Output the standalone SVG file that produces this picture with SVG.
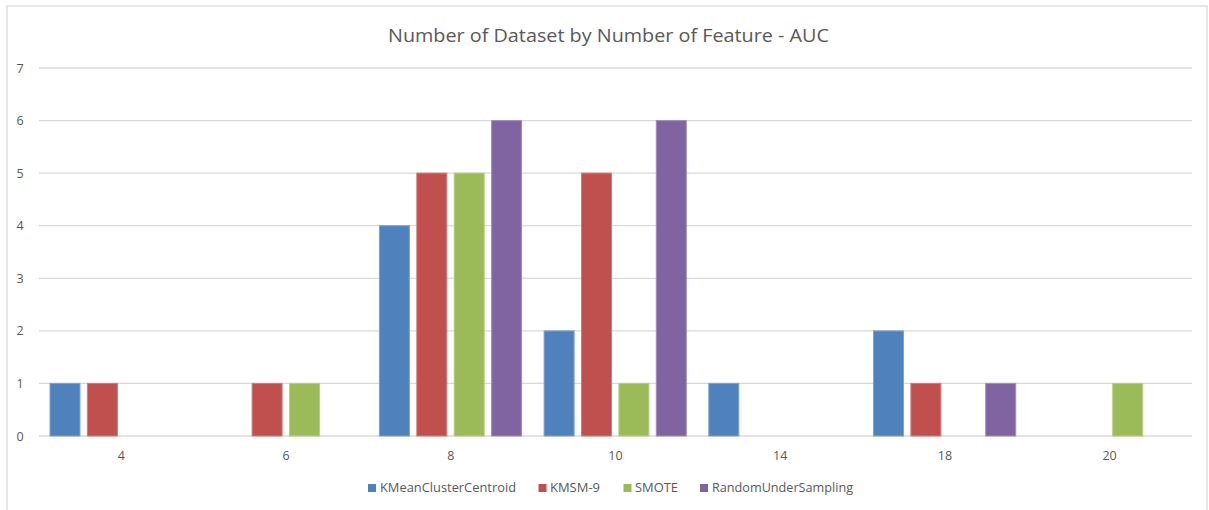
<svg xmlns="http://www.w3.org/2000/svg" width="1209" height="510" viewBox="0 0 1209 510">
  <style>
    .grid { stroke: #D9D9D9; stroke-width: 1.3; }
    .ytick { font-family: "Open Sans", "Liberation Sans", sans-serif; font-size: 12.5px; fill: #595959; text-anchor: middle; }
    .xtick { font-family: "Open Sans", "Liberation Sans", sans-serif; font-size: 12.5px; fill: #595959; text-anchor: middle; }
    .title { font-family: "Open Sans", "Liberation Sans", sans-serif; font-size: 19px; fill: #595959; }
    .legend { font-family: "Open Sans", "Liberation Sans", sans-serif; font-size: 12px; fill: #595959; }
    .s1 { fill: #4F81BD; stroke: #7EA2CF; stroke-width: 1; }
    .s2 { fill: #C0504D; stroke: #D27C79; stroke-width: 1; }
    .s3 { fill: #9BBB59; stroke: #B6CF86; stroke-width: 1; }
    .s4 { fill: #8064A2; stroke: #A28CBD; stroke-width: 1; }
  </style>

  <!-- chart area -->
  <rect x="0" y="0" width="1209" height="510" fill="#FFFFFF"/>
  <rect x="7" y="6" width="1200" height="520" fill="none" stroke="#D9D9D9" stroke-width="1.3"/>

  <text class="title" x="388" y="42" textLength="441" lengthAdjust="spacingAndGlyphs">Number of Dataset by Number of Feature - AUC</text>

  <!-- value axis gridlines (unit = 52.57px) -->
  <g id="gridlines">
    <line class="grid" x1="39" y1="68" x2="1192" y2="68"/>
    <line class="grid" x1="39" y1="120.6" x2="1192" y2="120.6"/>
    <line class="grid" x1="39" y1="173.1" x2="1192" y2="173.1"/>
    <line class="grid" x1="39" y1="225.7" x2="1192" y2="225.7"/>
    <line class="grid" x1="39" y1="278.3" x2="1192" y2="278.3"/>
    <line class="grid" x1="39" y1="330.9" x2="1192" y2="330.9"/>
    <line class="grid" x1="39" y1="383.4" x2="1192" y2="383.4"/>
    <line class="grid" x1="39" y1="436" x2="1192" y2="436"/>
  </g>

  <g id="y-axis-labels">
    <text class="ytick" x="20" y="72.5">7</text>
    <text class="ytick" x="20" y="125">6</text>
    <text class="ytick" x="20" y="177.6">5</text>
    <text class="ytick" x="20" y="230.2">4</text>
    <text class="ytick" x="20" y="282.8">3</text>
    <text class="ytick" x="20" y="335.4">2</text>
    <text class="ytick" x="20" y="387.9">1</text>
    <text class="ytick" x="20" y="440.5">0</text>
  </g>

  <!-- bars: category width 164.7, bar step 37.4, bar width 30 -->
  <g id="series-kmeanclustercentroid">
    <rect class="s1" x="50" y="383.4" width="30" height="52.6"/>
    <rect class="s1" x="379.4" y="225.7" width="30" height="210.3"/>
    <rect class="s1" x="544.1" y="330.9" width="30" height="105.1"/>
    <rect class="s1" x="708.8" y="383.4" width="30" height="52.6"/>
    <rect class="s1" x="873.5" y="330.9" width="30" height="105.1"/>
  </g>
  <g id="series-kmsm-9">
    <rect class="s2" x="87.4" y="383.4" width="30" height="52.6"/>
    <rect class="s2" x="252.1" y="383.4" width="30" height="52.6"/>
    <rect class="s2" x="416.8" y="173.1" width="30" height="262.9"/>
    <rect class="s2" x="581.5" y="173.1" width="30" height="262.9"/>
    <rect class="s2" x="910.9" y="383.4" width="30" height="52.6"/>
  </g>
  <g id="series-smote">
    <rect class="s3" x="289.5" y="383.4" width="30" height="52.6"/>
    <rect class="s3" x="454.2" y="173.1" width="30" height="262.9"/>
    <rect class="s3" x="618.9" y="383.4" width="30" height="52.6"/>
    <rect class="s3" x="1112.7" y="383.4" width="30" height="52.6"/>
  </g>
  <g id="series-randomundersampling">
    <rect class="s4" x="491.6" y="120.6" width="30" height="315.4"/>
    <rect class="s4" x="656.3" y="120.6" width="30" height="315.4"/>
    <rect class="s4" x="985.7" y="383.4" width="30" height="52.6"/>
  </g>

  <g id="x-axis-labels">
    <text class="xtick" x="121.4" y="460">4</text>
    <text class="xtick" x="286.1" y="460">6</text>
    <text class="xtick" x="450.8" y="460">8</text>
    <text class="xtick" x="615.5" y="460">10</text>
    <text class="xtick" x="780.2" y="460">14</text>
    <text class="xtick" x="944.9" y="460">18</text>
    <text class="xtick" x="1109.6" y="460">20</text>
  </g>

  <g id="legend">
    <rect x="368" y="484" width="8" height="8" fill="#4F81BD"/>
    <text class="legend" x="380" y="492" textLength="136" lengthAdjust="spacingAndGlyphs">KMeanClusterCentroid</text>
    <rect x="538.5" y="484" width="8" height="8" fill="#C0504D"/>
    <text class="legend" x="550" y="492" textLength="50" lengthAdjust="spacingAndGlyphs">KMSM-9</text>
    <rect x="623.5" y="484" width="8" height="8" fill="#9BBB59"/>
    <text class="legend" x="635" y="492" textLength="43" lengthAdjust="spacingAndGlyphs">SMOTE</text>
    <rect x="700" y="484" width="8" height="8" fill="#8064A2"/>
    <text class="legend" x="712" y="492" textLength="141" lengthAdjust="spacingAndGlyphs">RandomUnderSampling</text>
  </g>
</svg>
